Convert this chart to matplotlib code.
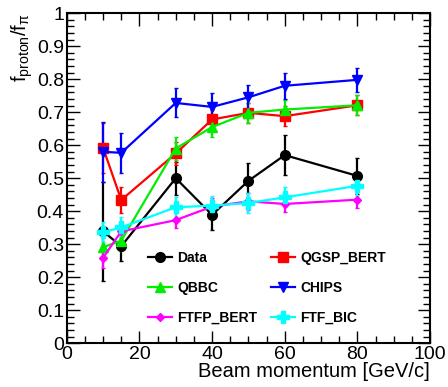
import numpy as np
import matplotlib.pyplot as plt
from matplotlib.ticker import MultipleLocator
from matplotlib.lines import Line2D

plt.rcParams['font.family'] = ['Liberation Sans', 'DejaVu Sans']
plt.rcParams['mathtext.fontset'] = 'custom'
plt.rcParams['mathtext.rm'] = 'Liberation Sans'
plt.rcParams['mathtext.it'] = 'Liberation Sans'

# beam momentum points
p = [10, 15, 30, 40, 50, 60, 80]

# f_proton / f_pi and errors
data = [0.339, 0.294, 0.500, 0.389, 0.492, 0.570, 0.507]
data_err = [0.15, 0.045, 0.05, 0.045, 0.053, 0.06, 0.055]

qgsp = [0.592, 0.434, 0.575, 0.678, 0.698, 0.688, 0.721]
qgsp_err = [0.075, 0.04, 0.035, 0.03, 0.03, 0.03, 0.03]

qbbc = [0.291, 0.311, 0.590, 0.655, 0.698, 0.708, 0.721]
qbbc_err = [0.03, 0.03, 0.035, 0.03, 0.03, 0.03, 0.03]

chips = [0.580, 0.577, 0.728, 0.716, 0.745, 0.780, 0.798]
chips_err = [0.09, 0.06, 0.044, 0.042, 0.038, 0.04, 0.037]

ftfp = [0.259, 0.339, 0.373, 0.414, 0.430, 0.422, 0.435]
ftfp_err = [0.03, 0.025, 0.025, 0.025, 0.025, 0.025, 0.025]

ftfbic = [0.336, 0.351, 0.412, 0.417, 0.425, 0.442, 0.477]
ftfbic_err = [0.03, 0.03, 0.03, 0.03, 0.03, 0.03, 0.03]

fig = plt.figure(figsize=(4.48, 3.87), dpi=100)
ax = fig.add_axes([0.149, 0.113, 0.811, 0.853])

series = [
    ("Data", data, data_err, "black", "o", 7),
    ("QGSP_BERT", qgsp, qgsp_err, "#ff0000", "s", 7),
    ("QBBC", qbbc, qbbc_err, "#00ee00", "^", 7),
    ("CHIPS", chips, chips_err, "#0000ff", "v", 7),
    ("FTFP_BERT", ftfp, ftfp_err, "#ff00ff", "D", 4),
    ("FTF_BIC", ftfbic, ftfbic_err, "#00ffff", "P", 8),
]

handles = {}
for name, y, e, c, m, ms in series:
    ax.errorbar(p, y, yerr=e, color=c, marker=m, markersize=ms, lw=1.6,
                elinewidth=1.6, capsize=1.5)
    handles[name] = Line2D([], [], color=c, marker=m, markersize=ms, lw=1.6)

ax.set_xlim(0, 100)
ax.set_ylim(0, 1)
ax.xaxis.set_major_locator(MultipleLocator(20))
ax.xaxis.set_minor_locator(MultipleLocator(5))
ax.yaxis.set_minor_locator(MultipleLocator(0.02))
ax.tick_params(which='both', direction='in', top=True, right=True, labelsize=14, pad=2)
ax.tick_params(which='major', length=9, width=1)
ax.tick_params(which='minor', length=5, width=1)
ax.set_yticks(np.arange(0, 1.01, 0.1))
ax.set_yticklabels(["0"] + ["%.1f" % v for v in np.arange(0.1, 0.95, 0.1)] + ["1"])
for s in ax.spines.values():
    s.set_linewidth(1.5)

ax.set_xlabel("Beam momentum [GeV/c]", fontsize=14.5, loc='right', labelpad=-1)
ax.set_ylabel(r"f$_{\rm proton}$/f$_{\pi}$", fontsize=14.5, loc='top', labelpad=1)

# ROOT fills the legend row by row; matplotlib fills by column
order = ["Data", "QBBC", "FTFP_BERT", "QGSP_BERT", "CHIPS", "FTF_BIC"]
ax.legend([handles[n] for n in order], order, ncol=2, frameon=False,
          loc='upper left', bbox_to_anchor=(0.19, 0.318),
          prop={'weight': 'bold', 'size': 10}, handlelength=1.7,
          handletextpad=0.4, columnspacing=1.0, labelspacing=1.15)

fig.savefig("out.png", dpi=100)
